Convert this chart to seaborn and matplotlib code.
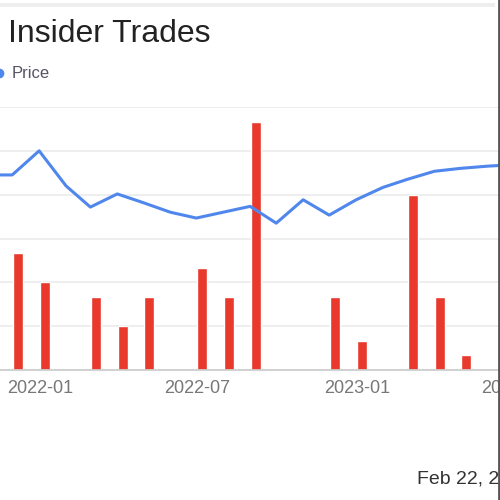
import numpy as np
import pandas as pd
import matplotlib
matplotlib.use("Agg")
import matplotlib.pyplot as plt
import matplotlib.dates as mdates
from matplotlib.lines import Line2D
from matplotlib.patches import Rectangle
import seaborn as sns

# ---- data ----
price_dates = pd.to_datetime([
    "2021-10-31", "2021-11-30", "2021-12-31", "2022-01-31", "2022-02-28",
    "2022-03-31", "2022-04-30", "2022-05-31", "2022-06-30", "2022-07-31",
    "2022-08-31", "2022-09-30", "2022-10-31", "2022-11-30", "2022-12-31",
    "2023-01-31", "2023-02-28", "2023-03-31", "2023-04-30", "2023-05-31",
    "2023-06-30",
])
price_values = [26.7, 26.7, 30.0, 25.2, 22.3, 24.1, 22.9, 21.6, 20.8, 21.6,
                22.4, 20.1, 23.3, 21.2, 23.3, 25.0, 26.1, 27.2, 27.6, 27.9,
                28.1]

trade_months = pd.to_datetime([
    "2021-12-01", "2022-01-01", "2022-03-01", "2022-04-01", "2022-05-01",
    "2022-07-01", "2022-08-01", "2022-09-01", "2022-12-01", "2023-01-01",
    "2023-03-01", "2023-04-01", "2023-05-01",
])
trade_counts = [8, 6, 5, 3, 5, 7, 5, 17, 5, 2, 12, 5, 1]

tick_dates = pd.to_datetime(["2022-01-01", "2022-07-01", "2023-01-01", "2023-07-01"])

TITLE = "Insider Trades"
LEGEND_LABEL = "Price"
DATE_NOTE = "Feb 22, 2024"

BLUE = "#4f87ec"
RED = "#e8392c"

sns.set_theme(style="white")
plt.rcParams["font.family"] = ["Liberation Sans", "DejaVu Sans"]

fig = plt.figure(figsize=(5, 5), dpi=100)
fig.patch.set_facecolor("white")

# axes reach past the figure edges (the reference is a crop of a wider card)
ax = fig.add_axes([-0.2, 0.26, 1.4, 0.526])
origin = pd.Timestamp("2022-01-01")
ax.set_xlim(origin + pd.Timedelta(days=-161.2), origin + pd.Timedelta(days=644.8))
ax.set_ylim(0, 18)

ax.bar(trade_months, trade_counts, width=11.5, align="edge", color=RED, zorder=2)

ax.set_yticks(np.arange(0, 19, 3))
ax.yaxis.grid(True, color="#ebebeb", linewidth=1.2)
ax.set_yticklabels([])
ax.tick_params(axis="y", length=0)
ax.set_xticks(tick_dates)
ax.xaxis.set_major_formatter(mdates.DateFormatter("%Y-%m"))
ax.tick_params(axis="x", length=0, pad=7, labelsize=13, labelcolor="#777777")
for side in ["top", "left", "right"]:
    ax.spines[side].set_visible(False)
ax.spines["bottom"].set_color("#cccccc")
ax.set_xlabel("")
ax.set_ylabel("")

ax2 = ax.twinx()
price_df = pd.DataFrame({"date": price_dates, "price": price_values})
sns.lineplot(data=price_df, x="date", y="price", ax=ax2, color=BLUE, linewidth=2.2)
ax2.set_ylim(0, 36)
ax2.set_xlim(ax.get_xlim())
ax2.axis("off")

# header, legend, footer
fig.text(8 / 500, 1 - 42 / 500, TITLE, fontsize=23, color="#222222", va="baseline")
fig.add_artist(Line2D([-0.002], [1 - 73 / 500], marker="o", markersize=6, color=BLUE,
                      linestyle="none", transform=fig.transFigure))
fig.text(12 / 500, 1 - 73 / 500, LEGEND_LABEL, fontsize=12, color="#555566", va="center")
fig.text(417 / 500, 1 - 483 / 500, DATE_NOTE, fontsize=14, color="#333333", va="baseline")

# card border bits
fig.add_artist(Rectangle((0, 1 - 7 / 500), 495 / 500, 4 / 500, color="#eeeeee",
                         transform=fig.transFigure, linewidth=0))
fig.add_artist(Line2D([498.5 / 500] * 2, [0, 1], color="#555555", linewidth=2,
                      transform=fig.transFigure))

fig.savefig("out.png", dpi=100)
